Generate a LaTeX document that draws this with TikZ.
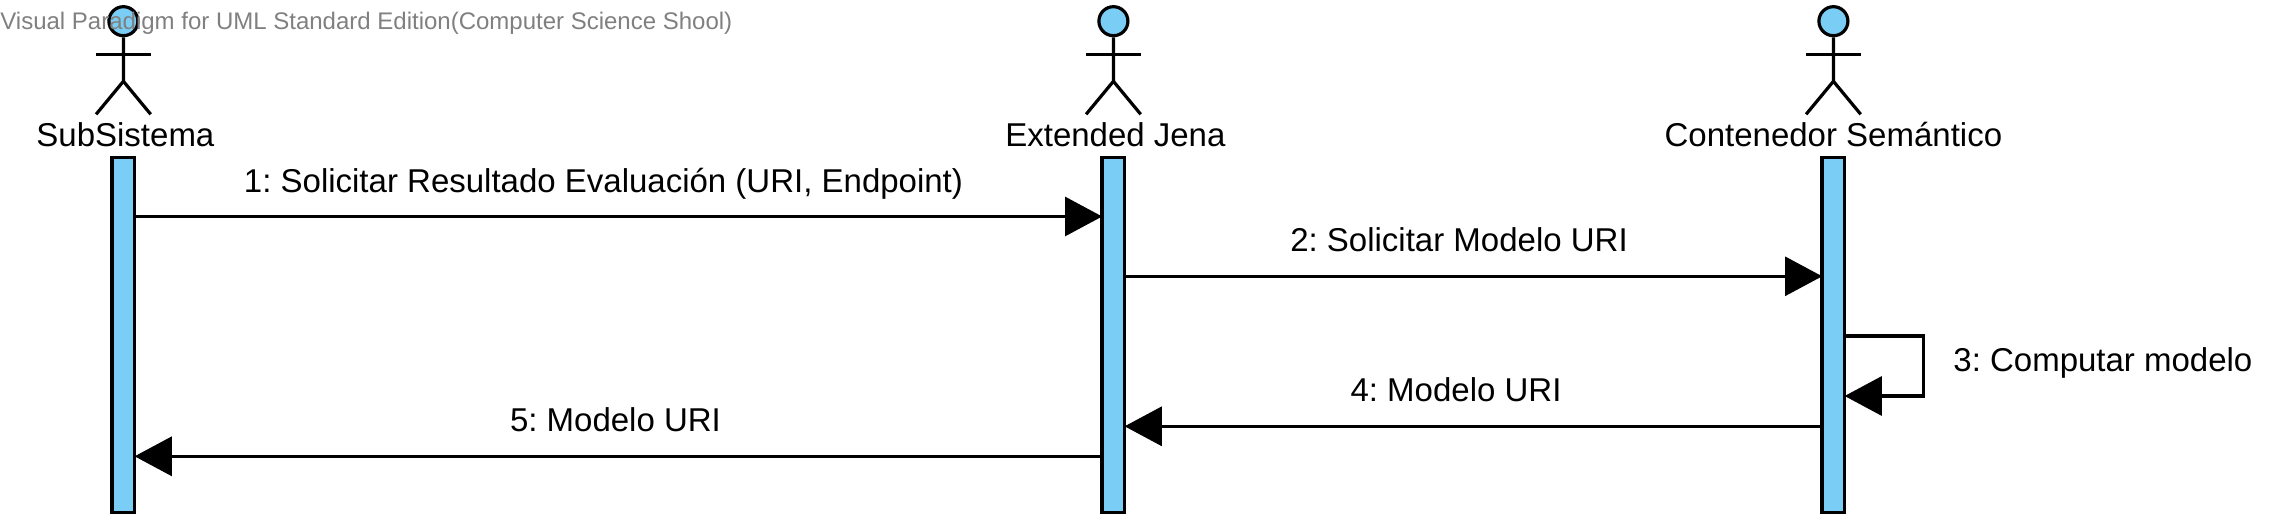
\documentclass[tikz,border=0pt]{standalone}
\usepackage{fontspec}
\setmainfont{Liberation Sans}
\usetikzlibrary{positioning,arrows.meta}
\definecolor{lifeblue}{RGB}{122,206,245}
\tikzset{
lifebar/.style = {draw, fill=lifeblue, line width=1.6pt, minimum width=11.4pt, minimum height=177.7pt, inner sep=0pt},
headnode/.style = {draw, circle, fill=lifeblue, line width=1.6pt, minimum size=14.5pt, inner sep=0pt},
stick/.style = {line width=1.6pt},
msg/.style = {line width=1.6pt, shorten >=-0.9pt, -{Triangle[length=18.6pt,width=19.5pt]}},
txt/.style = {font=\fontsize{16.5pt}{18pt}\selectfont\frenchspacing, anchor=base, inner sep=0pt},
stamp/.style = {font=\fontsize{12pt}{14pt}\selectfont, text=black!50, anchor=base west, inner sep=0pt},
}

\begin{document}
\begin{tikzpicture}[x=0.5pt, y=-0.5pt]
\useasboundingbox (0,0) rectangle (2295,528);
\node [lifebar] (barA) at (123.4,335) {};
\node [lifebar, right = 482pt of barA] (barB) {};
\node [lifebar, right = 347pt of barB] (barC) {};
\node [headnode, above = 59.2pt of barA] (headA) {};
\node [headnode, above = 59.2pt of barB] (headB) {};
\node [headnode, above = 59.2pt of barC] (headC) {};
\foreach \a in {A,B,C} {
\draw [stick] (head\a.south) -- ++(0,44) -- ++(-27.3,33);
\draw [stick] (head\a.south) ++(0,44) -- ++(27.3,33);
\draw [stick] (head\a.south) ++(-27.3,17) -- ++(54.6,0);
}
\coordinate (namey) at (2,146.7);
\node [txt, xshift=1pt] (nameA) at (barA |- namey) {SubSistema};
\node [txt, xshift=1pt] (nameB) at (barB |- namey) {Extended Jena};
\node [txt] (nameC) at (barC |- namey) {Contenedor Semántico};
\coordinate (y1) at (0,216.5);
\coordinate (y2) at (0,276.3);
\coordinate (y3) at (0,336);
\coordinate (y4) at (0,396);
\coordinate (y5) at (0,426.3);
\coordinate (y6) at (0,456.3);
\coordinate (turn) at (1923.3,0);
\draw [msg] (barA.east |- y1) -- (barB.west |- y1);
\draw [msg] (barB.east |- y2) -- (barC.west |- y2);
\draw [msg] (barC.east |- y3) -- (turn |- y3) -- (turn |- y4) -- (barC.east |- y4);
\draw [msg] (barC.west |- y5) -- (barB.east |- y5);
\draw [msg] (barB.west |- y6) -- (barA.east |- y6);
\node [txt] (lab1) at (603.5,192.2) {1: Solicitar Resultado Evaluación (URI, Endpoint)};
\node [txt] (lab2) at (1459,251.9) {2: Solicitar Modelo URI};
\node [txt, anchor=base west] (lab3) at (1953,371.9) {3: Computar modelo};
\node [txt] (lab4) at (1456,401.8) {4: Modelo URI};
\node [txt] (lab5) at (615.5,431.8) {5: Modelo URI};
\node [stamp] (mark) at (0,30) {Visual Paradigm for UML Standard Edition(Computer Science Shool)};
\end{tikzpicture}
\end{document}
